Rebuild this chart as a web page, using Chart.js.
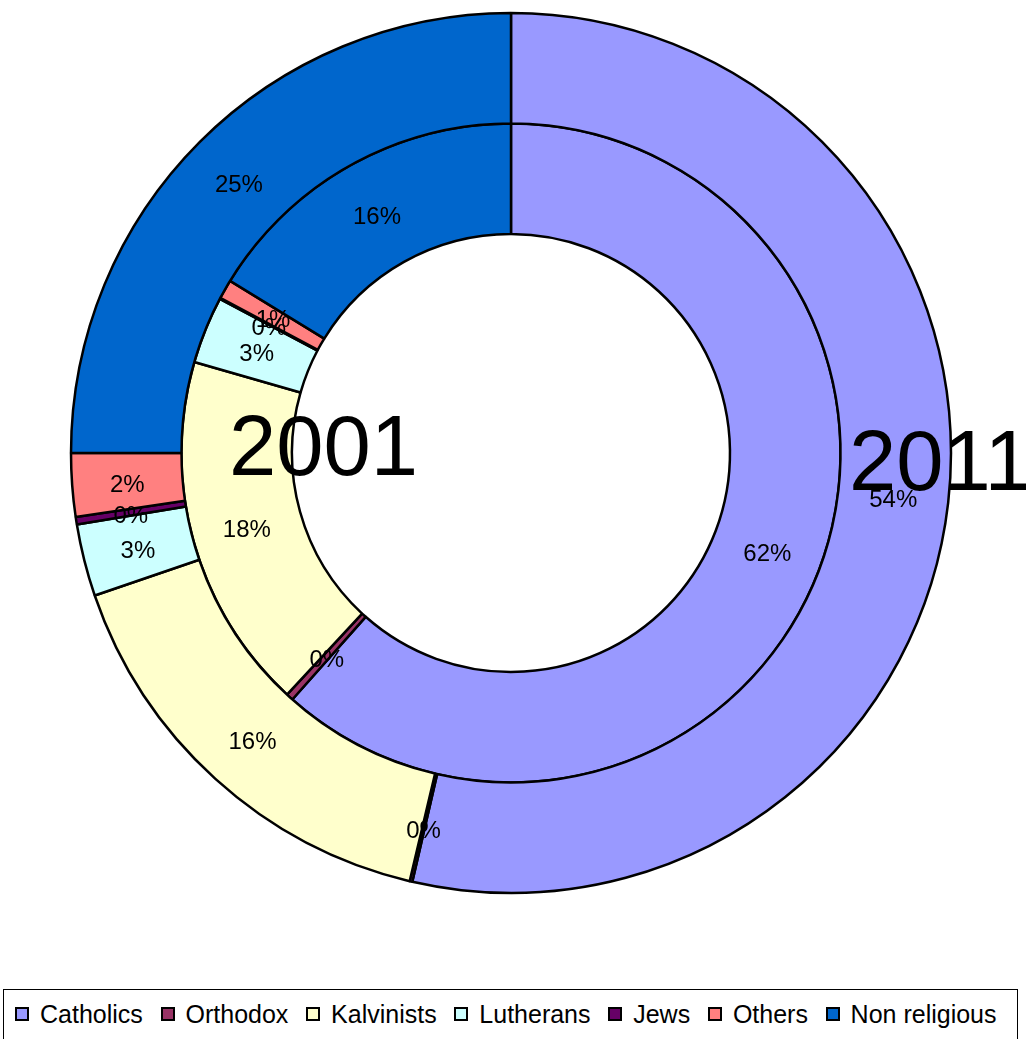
<!DOCTYPE html>
<html>
<head>
<meta charset="utf-8">
<script src="https://cdn.jsdelivr.net/npm/chart.js@4.4.1/dist/chart.umd.min.js"></script>
<style>
  html, body { margin: 0; padding: 0; background: #fff; width: 1026px; height: 1039px; overflow: hidden; }
  #wrap { position: absolute; left: 0; top: 0; width: 1026px; height: 985px; }
  #legend { position: absolute; left: 3px; top: 989px; width: 1015px; height: 60px; border: 1px solid #000; box-sizing: border-box; background: #fff; }
  #legend .row { position: absolute; left: 11px; top: 10px; display: flex; align-items: center; font-family: "Liberation Sans", Arial, sans-serif; font-size: 25px; color: #000; white-space: nowrap; }
  #legend .sq { width: 10px; height: 10px; border: 2px solid #000; margin-right: 11px; flex: none; position: relative; top: -1px; }
  #legend .it { display: flex; align-items: center; margin-right: 17.7px; }
</style>
</head>
<body>
<div id="wrap"><canvas id="c" width="1026" height="985"></canvas></div>
<div id="legend"><div class="row" id="row"></div></div>
<script>
const categories = ["Catholics", "Orthodox", "Kalvinists", "Lutherans", "Jews", "Others", "Non religious"];
const values2011 = [53.6, 0.1, 16.05, 2.65, 0.28, 2.32, 25.0];
const values2001 = [61.55, 0.35, 17.55, 3.3, 0.05, 0.95, 16.25];
const seriesLabels = ["2011", "2001"];
const colors = ["#9999FF", "#993366", "#FFFFCC", "#CCFFFF", "#660066", "#FF8080", "#0066CC"];

const labelPlugin = {
  id: 'pctLabels',
  afterDatasetsDraw(chart) {
    const ctx = chart.ctx;
    ctx.save();
    const m0 = chart.getDatasetMeta(0);
    const cx = m0.data[0].x, cy = m0.data[0].y;
    // year labels
    ctx.fillStyle = '#000';
    ctx.textAlign = 'left';
    ctx.textBaseline = 'alphabetic';
    ctx.font = '85px "Liberation Sans", Arial, sans-serif';
    ctx.fillText(seriesLabels[1], cx - 282, cy + 22);
    ctx.fillText(seriesLabels[0], cx + 338, cy + 37);
    // percentage labels
    ctx.font = '24px "Liberation Sans", Arial, sans-serif';
    ctx.textAlign = 'center';
    ctx.textBaseline = 'middle';
    chart.data.datasets.forEach((ds, di) => {
      const meta = chart.getDatasetMeta(di);
      const total = ds.data.reduce((a, b) => a + b, 0);
      meta.data.forEach((arc, i) => {
        const p = arc.tooltipPosition();
        const pct = Math.round(ds.data[i] / total * 100) + '%';
        ctx.fillText(pct, p.x, p.y + 4);
      });
    });
    ctx.restore();
  }
};

new Chart(document.getElementById('c'), {
  type: 'doughnut',
  data: {
    labels: categories,
    datasets: [
      { label: seriesLabels[0], data: values2011, backgroundColor: colors, borderColor: '#000', borderWidth: 2.5 },
      { label: seriesLabels[1], data: values2001, backgroundColor: colors, borderColor: '#000', borderWidth: 2.5 }
    ]
  },
  options: {
    responsive: false,
    animation: false,
    radius: 440,
    cutout: '49.77%',
    layout: { padding: { left: 0, right: 4, top: 0, bottom: 79 } },
    plugins: { legend: { display: false }, tooltip: { enabled: false }, title: { display: false } }
  },
  plugins: [labelPlugin]
});

const row = document.getElementById('row');
categories.forEach((c, i) => {
  const it = document.createElement('div');
  it.className = 'it';
  const sq = document.createElement('div');
  sq.className = 'sq';
  sq.style.background = colors[i];
  const t = document.createElement('span');
  t.textContent = c;
  it.appendChild(sq); it.appendChild(t);
  row.appendChild(it);
});
</script>
</body>
</html>
